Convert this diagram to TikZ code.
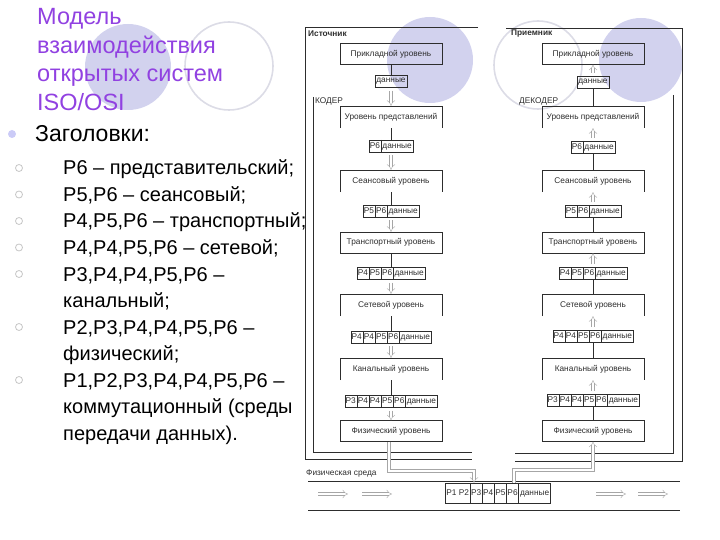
\documentclass[tikz,border=0pt]{standalone}
\usepackage{fontspec}
\setmainfont{Liberation Sans}
\usetikzlibrary{shapes.multipart,arrows.meta}
\definecolor{ttl}{RGB}{145,65,225}
\definecolor{lav}{RGB}{210,210,238}
\definecolor{ring}{RGB}{220,220,230}
\definecolor{ink}{RGB}{45,45,45}
\newcommand\dgm{\fontsize{8.3}{9}\selectfont}
\newcommand\dat{\makebox[30pt]{данные}}
\newcommand\lvlframe[1]{\draw[ink] (#1.south west) -- (#1.north west) -- (#1.north east) -- (#1.south east);}
\tikzset{
  lvl/.style={draw=ink, minimum width=102pt, minimum height=21pt, inner sep=0pt, font=\dgm, text=ink},
  lvlopen/.style={minimum width=102pt, minimum height=22pt, inner sep=0pt, font=\dgm, text=ink},
  pkt/.style={draw=ink, rectangle split, rectangle split horizontal, rectangle split parts=#1,
    rectangle split part align=base, inner xsep=0.8pt, inner ysep=1.5pt, minimum height=12pt,
    font=\dgm, text=ink},
  pipe/.style={draw=gray!70, double distance=2.6pt, -{Implies}, shorten <=3pt},
  hdr/.style={font=\dgm, text=ink, anchor=west, inner sep=0pt},
  item/.style={font=\fontsize{20}{22}\selectfont, anchor=base west, inner sep=0pt},
}
\begin{document}
\begin{tikzpicture}[x=1pt,y=-1pt]
\useasboundingbox (0,0) rectangle (720,540);
\fill[lav] (128,67) circle (43pt);
\draw[ring, line width=1.6pt] (229,66) circle (44pt);
\fill[lav] (430,60) circle (43pt);
\draw[ring, line width=1.6pt] (538,65) circle (44pt);
\fill[lav] (641,60) circle (42pt);

\foreach \t [count=\i] in {Модель, взаимодействия, открытых систем, ISO/OSI}
  \node[item, font=\fontsize{23.5}{26}\selectfont, text=ttl] (title\i) at (37,{25+28.4*(\i-1)}) {\t};
\fill[lav!80!blue!60] (12,134) circle (4pt);
\node[item, font=\fontsize{23}{26}\selectfont] (head) at (35,141.5) {Заголовки:};
\foreach \b/\t [count=\i] in {1/{Р6 – представительский;}, 1/{Р5,Р6 – сеансовый;},
    1/{Р4,Р5,Р6 – транспортный;}, 1/{Р4,Р4,Р5,Р6 – сетевой;}, 1/{Р3,Р4,Р4,Р5,Р6 –},
    0/{канальный;}, 1/{Р2,Р3,Р4,Р4,Р5,Р6 –}, 0/{физический;},
    1/{Р1,Р2,Р3,Р4,Р4,Р5,Р6 –}, 0/{коммутационный (среды}, 0/{передачи данных).}}{
  \node[item] (line\i) at (63,{175+26.5*(\i-1)}) {\t};
  \ifnum\b=1 \draw[gray!45, line width=0.8pt] (19,{168+26.5*(\i-1)}) circle (3.5pt); \fi
}

\draw[ink] (478,27) -- (305,27) -- (305,459) -- (472,459);
\node[hdr, font=\dgm\bfseries] (src) at (308,34) {Источник};
\draw[ink] (313,97) -- (313,452) -- (472,452);
\node[hdr] (coder) at (315,101) {КОДЕР};
\draw[ink] (506,28) -- (682,28) -- (682,461) -- (515,461);
\node[hdr, font=\dgm\bfseries] (dst) at (511,34) {Приемник};
\draw[ink] (673,95) -- (673,453) -- (515,453);
\node[hdr] (decoder) at (519,101) {ДЕКОДЕР};

\node[lvl] (srcApp) at (391,54) {Прикладной уровень};
\node[pkt=1] (srcP1) at (391,81.5) {\dat};
\node[lvlopen] (srcPres) at (391,117) {Уровень представлений};
\node[pkt=2] (srcP2) at (391,146) {Р6\nodepart{two}\dat};
\node[lvlopen] (srcSess) at (391,181) {Сеансовый уровень};
\node[pkt=3] (srcP3) at (391,211) {Р5\nodepart{two}Р6\nodepart{three}\dat};
\node[lvl] (srcTrans) at (391,242.5) {Транспортный уровень};
\node[pkt=4] (srcP4) at (391,273.5) {Р4\nodepart{two}Р5\nodepart{three}Р6\nodepart{four}\dat};
\node[lvlopen] (srcNet) at (391,305) {Сетевой уровень};
\node[pkt=5] (srcP5) at (391,337) {Р4\nodepart{two}Р4\nodepart{three}Р5\nodepart{four}Р6\nodepart{five}\dat};
\node[lvlopen] (srcChan) at (391,369) {Канальный уровень};
\node[pkt=6] (srcP6) at (391,401.5) {Р3\nodepart{two}Р4\nodepart{three}Р4\nodepart{four}Р5\nodepart{five}Р6\nodepart{six}\dat};
\node[lvl] (srcPhys) at (391,431) {Физический уровень};
\foreach \n in {srcPres,srcSess,srcNet,srcChan} {\lvlframe{\n}}

\node[lvl] (dstApp) at (593,54) {Прикладной уровень};
\node[pkt=1] (dstP1) at (593,82) {\dat};
\node[lvlopen] (dstPres) at (593,117) {Уровень представлений};
\node[pkt=2] (dstP2) at (593,147) {Р6\nodepart{two}\dat};
\node[lvlopen] (dstSess) at (593,181) {Сеансовый уровень};
\node[pkt=3] (dstP3) at (593,211.5) {Р5\nodepart{two}Р6\nodepart{three}\dat};
\node[lvl] (dstTrans) at (593,242.5) {Транспортный уровень};
\node[pkt=4] (dstP4) at (593,273.5) {Р4\nodepart{two}Р5\nodepart{three}Р6\nodepart{four}\dat};
\node[lvlopen] (dstNet) at (593,305) {Сетевой уровень};
\node[pkt=5] (dstP5) at (593,336) {Р4\nodepart{two}Р4\nodepart{three}Р5\nodepart{four}Р6\nodepart{five}\dat};
\node[lvlopen] (dstChan) at (593,369) {Канальный уровень};
\node[pkt=6] (dstP6) at (593,400) {Р3\nodepart{two}Р4\nodepart{three}Р4\nodepart{four}Р5\nodepart{five}Р6\nodepart{six}\dat};
\node[lvl] (dstPhys) at (593,431) {Физический уровень};
\foreach \n in {dstPres,dstSess,dstNet,dstChan} {\lvlframe{\n}}

\foreach \a/\b in {srcApp/srcP1, srcPres/srcP2, srcSess/srcP3, srcTrans/srcP4, srcNet/srcP5, srcChan/srcP6,
    dstP1/dstPres, dstP2/dstSess, dstP3/dstTrans, dstP4/dstNet, dstP5/dstChan, dstP6/dstPhys}
  \draw[ink] (\a) -- (\b);
\foreach \a/\b in {srcP1/srcPres, srcP2/srcSess, srcP3/srcTrans, srcP4/srcNet, srcP5/srcChan, srcP6/srcPhys,
    dstP1/dstApp, dstP2/dstPres, dstP3/dstSess, dstP4/dstTrans, dstP5/dstNet, dstP6/dstChan}
  \draw[pipe] (\a) -- (\b);

\node[hdr] (medium) at (306,473) {Физическая среда};
\draw[ink] (308,481) -- (680,481);
\draw[ink] (308,510) -- (680,510);
\node[pkt=6, minimum height=20pt] (frame) at (498,493) {Р1 Р2\nodepart{two}Р3\nodepart{three}Р4\nodepart{four}Р5\nodepart{five}Р6\nodepart{six}\dat};
\foreach \x in {318,362,596,638} \draw[pipe, shorten <=0pt] (\x,494) -- ++(30,0);
\coordinate (bendL) at (474,471);
\draw[pipe, shorten <=0pt] ([xshift=-2pt]srcPhys.south) |- (bendL) -- (bendL |- frame.north);
\coordinate (bendR) at (593,470);
\draw[pipe, shorten <=0pt] ([xshift=16pt]frame.north) |- (bendR) -- (bendR |- dstPhys.south);
\end{tikzpicture}
\end{document}
